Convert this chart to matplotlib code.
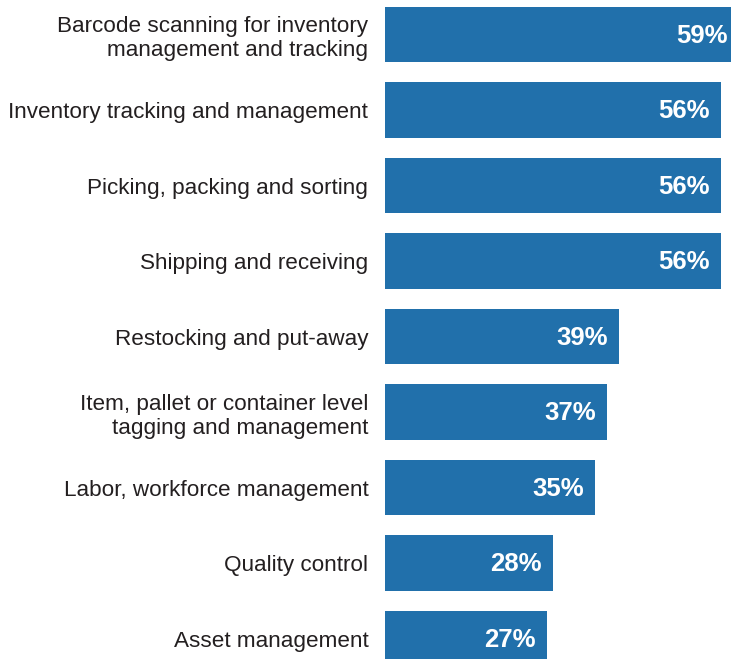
import matplotlib
matplotlib.use("Agg")
import matplotlib.pyplot as plt

categories = [
    "Barcode scanning for inventory\nmanagement and tracking",
    "Inventory tracking and management",
    "Picking, packing and sorting",
    "Shipping and receiving",
    "Restocking and put-away",
    "Item, pallet or container level\ntagging and management",
    "Labor, workforce management",
    "Quality control",
    "Asset management",
]
values = [59, 56, 56, 56, 39, 37, 35, 28, 27]

bar_color = "#2170ab"
text_color = "#231f20"

plt.rcParams["font.family"] = ["Liberation Sans", "DejaVu Sans"]

fig = plt.figure(figsize=(7.31, 6.59), dpi=100)
ax = fig.add_axes([385 / 731, 0, 1 - 385 / 731, 1])

ypos = list(range(len(categories)))
ax.barh(ypos, values, height=0.735, color=bar_color)

for y, v in zip(ypos, values):
    ax.annotate(f"{v}%", xy=(v, y), xytext=(-11, -1), textcoords="offset pixels",
                ha="right", va="center", color="white", fontsize=18.5,
                fontweight="bold", annotation_clip=False)

ax.set_xlim(0, 346 / 6)
ax.set_ylim(8.27, -0.46)
ax.set_yticks(ypos)
ax.set_yticklabels(categories, fontsize=16.2, color=text_color, linespacing=1.2)
ax.tick_params(axis="y", length=0, pad=12)
ax.set_xticks([])
for s in ax.spines.values():
    s.set_visible(False)

fig.savefig("out.png", dpi=100)
